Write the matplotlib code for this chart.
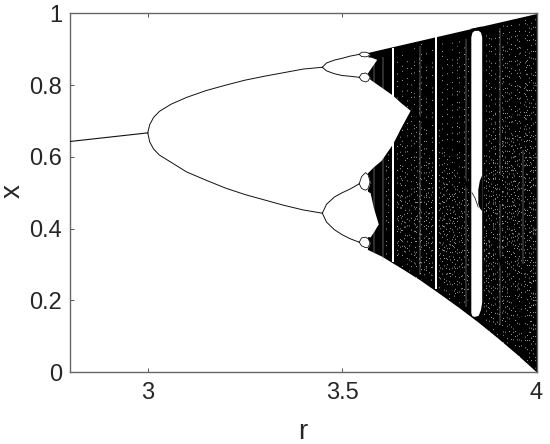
import matplotlib
matplotlib.use("Agg")
import matplotlib.pyplot as plt

plt.rcParams['font.family'] = ['Liberation Sans', 'DejaVu Sans']

# single branch before the first fork
stem_r = [2.8, 3.0]
stem_x = [0.643, 0.667]

# first fork, values
fork_r = [3.0, 3.005, 3.015, 3.03, 3.06, 3.1, 3.15, 3.2, 3.25, 3.3, 3.35, 3.4, 3.449]
fork_hi = [0.667, 0.69, 0.71, 0.727, 0.747, 0.766, 0.785, 0.80, 0.814, 0.825, 0.835, 0.845, 0.85]
fork_lo = [0.667, 0.642, 0.622, 0.605, 0.585, 0.558, 0.535, 0.513, 0.495, 0.48, 0.465, 0.452, 0.443]

# second fork, four branches
fork2_r = [3.449, 3.46, 3.48, 3.5, 3.52, 3.544]
fork2_a = [0.85, 0.862, 0.87, 0.875, 0.881, 0.886]
fork2_b = [0.85, 0.84, 0.832, 0.827, 0.825, 0.822]
fork2_c = [0.443, 0.468, 0.488, 0.50, 0.51, 0.525]
fork2_d = [0.443, 0.418, 0.397, 0.383, 0.372, 0.362]

# small lobes after the second fork, closed at the right end
lobe_r = [3.544, 3.55, 3.56, 3.567, 3.572]
lobe_a_hi = [0.886, 0.892, 0.892, 0.890, 0.886]
lobe_a_lo = [0.886, 0.880, 0.879, 0.881, 0.886]
lobe_b_hi = [0.822, 0.832, 0.834, 0.830, 0.822]
lobe_b_lo = [0.822, 0.813, 0.809, 0.812, 0.822]
lobe_c_hi = [0.525, 0.545, 0.556, 0.550, 0.530]
lobe_c_lo = [0.525, 0.512, 0.507, 0.512, 0.530]
lobe_d_hi = [0.362, 0.374, 0.376, 0.372, 0.360]
lobe_d_lo = [0.362, 0.352, 0.347, 0.348, 0.360]

# outline of the dense part
chaos_r = [3.565, 3.6, 3.65, 3.7, 3.75, 3.8, 3.85, 3.9, 3.95, 4.0]
chaos_top = [0.891, 0.90, 0.9125, 0.925, 0.9375, 0.95, 0.9625, 0.975, 0.9875, 1.0]
chaos_bottom = [0.342, 0.324, 0.291, 0.257, 0.219, 0.18, 0.139, 0.095, 0.049, 0.0]

# white gaps between the bands
wedge_r = [3.56, 3.58, 3.6, 3.63, 3.65, 3.675]
wedge_hi = [0.826, 0.81, 0.795, 0.772, 0.752, 0.73]
wedge_lo = [0.55, 0.572, 0.59, 0.637, 0.68, 0.73]
gap_top_r = [3.56, 3.575, 3.589]
gap_top_hi = [0.88, 0.878, 0.872]
gap_top_lo = [0.826, 0.85, 0.872]
gap_mid_r = [3.56, 3.572, 3.58, 3.593]
gap_mid_hi = [0.508, 0.50, 0.46, 0.413]
gap_mid_lo = [0.378, 0.377, 0.39, 0.413]

# narrow periodic windows: left, right, bottom, top
win_left = [3.6275, 3.7395]
win_right = [3.6345, 3.745]
win_low = [0.308, 0.231]
win_high = [0.905, 0.935]

# the wide window, rounded at both ends
big_r = [3.831, 3.834, 3.84, 3.85, 3.856, 3.859]
big_low = [0.165, 0.157, 0.155, 0.158, 0.175, 0.195]
big_high = [0.935, 0.948, 0.953, 0.953, 0.948, 0.935]

# thin pale streaks
thin_r = [3.582, 3.605, 3.70, 3.818, 3.906, 3.906, 3.965]
thin_low = [0.33, 0.31, 0.27, 0.18, 0.13, 0.55, 0.30]
thin_high = [0.87, 0.88, 0.91, 0.93, 0.47, 0.96, 0.62]

# speckled columns in the dense part
speck_r = [3.612, 3.618, 3.641, 3.648, 3.655, 3.662, 3.668, 3.677, 3.684, 3.69, 3.697,
           3.704, 3.711, 3.717, 3.724, 3.731, 3.75, 3.756, 3.762, 3.769, 3.775, 3.782,
           3.788, 3.795, 3.801, 3.808, 3.813, 3.824, 3.864, 3.869, 3.874, 3.879, 3.884,
           3.889, 3.894, 3.899, 3.903, 3.91, 3.915, 3.92, 3.925, 3.93, 3.935, 3.94,
           3.945, 3.95, 3.955, 3.96, 3.97, 3.975, 3.98, 3.985, 3.99, 3.995]
speck_low = [0.33, 0.41, 0.31, 0.35, 0.29, 0.33, 0.30, 0.27, 0.30, 0.25, 0.29,
             0.26, 0.24, 0.28, 0.25, 0.27, 0.23, 0.26, 0.21, 0.24, 0.20, 0.23,
             0.19, 0.22, 0.18, 0.21, 0.17, 0.20, 0.15, 0.12, 0.16, 0.11, 0.14, 0.10,
             0.13, 0.09, 0.12, 0.11, 0.08, 0.10, 0.07, 0.09, 0.06, 0.08, 0.05, 0.07,
             0.04, 0.06, 0.05, 0.03, 0.04, 0.02, 0.03, 0.01]
speck_high = [0.58, 0.63, 0.88, 0.66, 0.90, 0.64, 0.88, 0.85, 0.91, 0.72, 0.90,
              0.92, 0.68, 0.90, 0.62, 0.91, 0.70, 0.92, 0.64, 0.90, 0.62, 0.93,
              0.60, 0.91, 0.94, 0.58, 0.92, 0.90, 0.62, 0.95, 0.56, 0.94, 0.96, 0.72,
              0.95, 0.60, 0.96, 0.94, 0.97, 0.70, 0.97, 0.95, 0.98, 0.68, 0.98, 0.96,
              0.98, 0.66, 0.99, 0.97, 0.99, 0.98, 0.99, 0.99]

# the paler patches get a second set of columns
pale_r = [3.645, 3.66, 3.672, 3.688, 3.70, 3.715, 3.728, 3.753, 3.766, 3.778, 3.79, 3.806,
          3.82, 3.866, 3.877, 3.887, 3.897, 3.912, 3.923, 3.938, 3.953, 3.968, 3.982,
          3.651, 3.693, 3.72, 3.759, 3.785, 3.871, 3.892, 3.918, 3.943, 3.958, 3.973, 3.992]
pale_low = [0.33, 0.31, 0.28, 0.30, 0.26, 0.27, 0.24, 0.25, 0.22, 0.24, 0.20, 0.21,
            0.20, 0.30, 0.32, 0.25, 0.40, 0.22, 0.18, 0.35, 0.15, 0.22, 0.10,
            0.36, 0.40, 0.34, 0.30, 0.32, 0.22, 0.44, 0.56, 0.30, 0.62, 0.55, 0.08]
pale_high = [0.50, 0.47, 0.52, 0.48, 0.55, 0.50, 0.57, 0.52, 0.58, 0.50, 0.55, 0.48,
             0.52, 0.42, 0.38, 0.60, 0.52, 0.68, 0.60, 0.72, 0.55, 0.80, 0.66,
             0.55, 0.58, 0.60, 0.56, 0.50, 0.55, 0.74, 0.90, 0.62, 0.92, 0.88, 0.60]

# darker diagonal trail through the speckles
trail_r = [3.68, 3.74, 3.785, 3.83, 3.855, 3.893, 3.93, 3.97]
trail_x = [0.73, 0.66, 0.60, 0.50, 0.457, 0.349, 0.24, 0.12]

# bits of branch inside the big window
win3_r = [3.834, 3.842, 3.85]
win3_x = [0.50, 0.485, 0.46]
win3_top_r = [3.832, 3.858]
win3_top_x = [0.956, 0.962]
win3_lobe_r = [3.849, 3.853, 3.859]
win3_lobe_lo = [0.47, 0.458, 0.45]
win3_lobe_hi = [0.51, 0.535, 0.55]

fig = plt.figure(figsize=(5.5, 4.44), dpi=100)
ax = fig.add_axes([70 / 550, 1 - 372 / 444, 466.5 / 550, 358.5 / 444])

ink = '#111111'
ax.fill_between(chaos_r, chaos_bottom, chaos_top, color='black', lw=0, zorder=1)

# speckle texture: every column gets its own dash rhythm so no rows line up
patterns = [(1, 9, 1, 4, 1, 14), (1, 6, 1, 11, 1, 7), (1, 13, 1, 5, 1, 8),
            (1, 8, 1, 8, 1, 3, 1, 15), (1, 5, 1, 12, 1, 10)]
speck_styles = [((i * 3.7) % 11, patterns[i % 5]) for i in range(len(speck_r))]
pale_styles = [((i * 2.3) % 7, patterns[(i * 2) % 5]) for i in range(len(pale_r))]
ax.vlines(speck_r, speck_low, speck_high, color='white', lw=0.6, linestyles=speck_styles, alpha=0.85, zorder=2)
ax.vlines(pale_r, pale_low, pale_high, color='white', lw=0.6, linestyles=pale_styles, alpha=0.85, zorder=2)
ax.vlines(thin_r, thin_low, thin_high, color='#bbbbbb', lw=0.35, zorder=2)
ax.plot(trail_r, trail_x, color='black', lw=1.8, zorder=3)

ax.fill_between(wedge_r, wedge_lo, wedge_hi, color='white', lw=0, zorder=4)
ax.fill_between(gap_top_r, gap_top_lo, gap_top_hi, color='white', lw=0, zorder=4)
ax.fill_between(gap_mid_r, gap_mid_lo, gap_mid_hi, color='white', lw=0, zorder=4)
for left, right, low, high in zip(win_left, win_right, win_low, win_high):
    ax.fill_between([left, right], low, high, color='white', lw=0, zorder=4)
ax.fill_between(big_r, big_low, big_high, color='white', lw=0, zorder=4)
ax.fill_between(win3_lobe_r, win3_lobe_lo, win3_lobe_hi, color='black', lw=0, zorder=5)
ax.plot(win3_r, win3_x, color='black', lw=0.5, zorder=5)
ax.plot(win3_top_r, win3_top_x, color='black', lw=0.7, zorder=5)

ax.plot(stem_r, stem_x, color=ink, lw=0.8, zorder=6)
for branch in [fork_hi, fork_lo]:
    ax.plot(fork_r, branch, color=ink, lw=0.7, zorder=6)
for branch in [fork2_a, fork2_b, fork2_c, fork2_d]:
    ax.plot(fork2_r, branch, color=ink, lw=0.7, zorder=6)
for hi, lo in [(lobe_a_hi, lobe_a_lo), (lobe_b_hi, lobe_b_lo), (lobe_c_hi, lobe_c_lo), (lobe_d_hi, lobe_d_lo)]:
    ax.fill_between(lobe_r, lo, hi, color='white', lw=0, zorder=5)
    ax.plot(lobe_r, hi, color=ink, lw=0.6, zorder=6)
    ax.plot(lobe_r, lo, color=ink, lw=0.6, zorder=6)

ax.set_xlim(2.8, 4)
ax.set_ylim(0, 1)
ax.set_xticks([3, 3.5, 4])
ax.set_xticklabels(['3', '3.5', '4'])
ax.set_yticks([0, 0.2, 0.4, 0.6, 0.8, 1])
ax.set_yticklabels(['0', '0.2', '0.4', '0.6', '0.8', '1'])

ax.tick_params(direction='in', length=3.2, width=0.7, color='#555555', top=True, right=True,
               labelsize=17, labelcolor='#262626')
ax.tick_params(axis='x', pad=7)
ax.tick_params(axis='y', pad=5.5)
for spine in ax.spines.values():
    spine.set_color('#666666')
    spine.set_linewidth(1.0)

ax.set_xlabel('r', fontsize=20, color='#262626', va='center')
ax.set_ylabel('x', fontsize=20, color='#262626', va='center')
ax.xaxis.set_label_coords(0.5, -60 / 358.5)
ax.yaxis.set_label_coords(-57 / 466.5, 0.505)

fig.savefig('out.png', dpi=100)
